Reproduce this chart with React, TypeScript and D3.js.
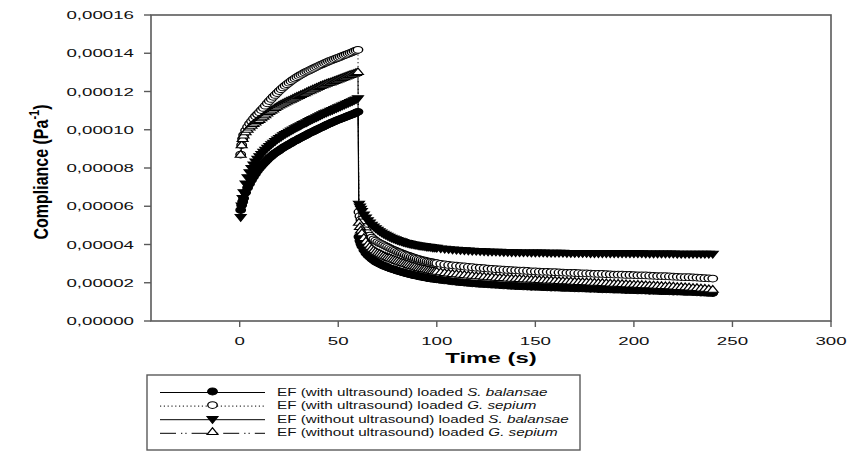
import React from 'react';
import * as d3 from 'd3';

// ---- data (compliance in units of 1e-5 Pa^-1) ----
const UNIT = 1e-5;
const creepTime = [0.5, 1, 1.5, 2, 3, 4, 5, 6, 7, 8, 9, 10, 11, 12, 13, 14, 15, 16, 17, 18, 19, 20,
  21, 22, 23, 24, 25, 26, 27, 28, 29, 30, 31, 32, 33, 34, 35, 36, 37, 38, 39, 40,
  41, 42, 43, 44, 45, 46, 47, 48, 49, 50, 51, 52, 53, 54, 55, 56, 57, 58, 59, 60];
const recoveryTime = [60.5, 61, 61.5, 62, 63, 64, 65, 66, 67, 68, 69, 70, 71, 72, 73, 74, 75, 76, 77, 78, 79, 80,
  81, 82, 83, 84, 85, 86, 87, 88, 89, 90, 91, 92, 93, 94, 95, 96, 97, 98, 99, 100,
  102, 104, 106, 108, 110, 112, 114, 116, 118, 120, 122, 124, 126, 128, 130, 132, 134, 136, 138, 140,
  142, 144, 146, 148, 150, 152, 154, 156, 158, 160, 162, 164, 166, 168, 170, 172, 174, 176, 178, 180,
  182, 184, 186, 188, 190, 192, 194, 196, 198, 200, 202, 204, 206, 208, 210, 212, 214, 216, 218, 220,
  222, 224, 226, 228, 230, 232, 234, 236, 238, 240];

const usBalansaeCreep = [5.80, 6.05, 6.25, 6.42, 6.72, 6.97, 7.18, 7.37, 7.54, 7.70, 7.85, 7.99, 8.11, 8.22, 8.33, 8.43, 8.53, 8.62, 8.71, 8.78, 8.85, 8.92,
  8.99, 9.06, 9.12, 9.18, 9.24, 9.30, 9.36, 9.42, 9.47, 9.53, 9.58, 9.64, 9.69, 9.74, 9.80, 9.85, 9.90, 9.95, 10.00, 10.05,
  10.10, 10.15, 10.20, 10.25, 10.30, 10.34, 10.39, 10.43, 10.48, 10.52, 10.56, 10.60, 10.64, 10.68, 10.72, 10.76, 10.80, 10.84, 10.89, 10.94];
const usBalansaeRecovery = [4.41, 4.20, 4.04, 3.91, 3.71, 3.56, 3.44, 3.34, 3.25, 3.17, 3.10, 3.04, 2.99, 2.94, 2.89, 2.85, 2.81, 2.77, 2.73, 2.70, 2.67, 2.63,
  2.60, 2.57, 2.54, 2.51, 2.48, 2.46, 2.43, 2.41, 2.38, 2.36, 2.34, 2.32, 2.30, 2.28, 2.26, 2.24, 2.22, 2.21, 2.19, 2.18,
  2.15, 2.12, 2.10, 2.07, 2.05, 2.03, 2.01, 1.99, 1.97, 1.96, 1.94, 1.93, 1.92, 1.90, 1.89, 1.88, 1.86, 1.85, 1.84, 1.83,
  1.82, 1.81, 1.80, 1.79, 1.79, 1.78, 1.77, 1.76, 1.75, 1.75, 1.74, 1.73, 1.73, 1.72, 1.71, 1.70, 1.70, 1.69, 1.68, 1.68,
  1.67, 1.66, 1.66, 1.65, 1.64, 1.64, 1.63, 1.62, 1.62, 1.61, 1.60, 1.60, 1.59, 1.58, 1.58, 1.57, 1.56, 1.56, 1.55, 1.54,
  1.54, 1.53, 1.52, 1.52, 1.51, 1.50, 1.49, 1.48, 1.47, 1.46];

const usSepiumCreep = [8.70, 9.20, 9.52, 9.72, 9.96, 10.15, 10.31, 10.45, 10.58, 10.70, 10.81, 10.92, 11.03, 11.14, 11.26, 11.38, 11.50, 11.61, 11.72, 11.82, 11.92, 12.02,
  12.12, 12.21, 12.30, 12.38, 12.46, 12.54, 12.61, 12.68, 12.75, 12.81, 12.87, 12.93, 12.99, 13.04, 13.09, 13.14, 13.19, 13.24, 13.29, 13.34,
  13.39, 13.43, 13.48, 13.52, 13.57, 13.61, 13.65, 13.69, 13.73, 13.77, 13.81, 13.85, 13.89, 13.93, 13.97, 14.01, 14.05, 14.10, 14.14, 14.18];
const usSepiumRecovery = [5.70, 5.48, 5.30, 5.15, 4.92, 4.74, 4.59, 4.47, 4.36, 4.27, 4.20, 4.13, 4.07, 4.02, 3.97, 3.92, 3.87, 3.82, 3.77, 3.72, 3.68, 3.63,
  3.59, 3.55, 3.51, 3.47, 3.43, 3.40, 3.36, 3.33, 3.29, 3.26, 3.23, 3.20, 3.17, 3.15, 3.12, 3.10, 3.08, 3.06, 3.04, 3.02,
  2.99, 2.96, 2.93, 2.91, 2.89, 2.87, 2.85, 2.83, 2.81, 2.79, 2.78, 2.76, 2.74, 2.73, 2.71, 2.70, 2.68, 2.67, 2.66, 2.65,
  2.64, 2.63, 2.62, 2.60, 2.59, 2.58, 2.57, 2.57, 2.56, 2.55, 2.54, 2.53, 2.52, 2.52, 2.51, 2.50, 2.49, 2.49, 2.48, 2.47,
  2.46, 2.46, 2.45, 2.44, 2.43, 2.43, 2.42, 2.41, 2.41, 2.40, 2.39, 2.39, 2.38, 2.37, 2.36, 2.35, 2.35, 2.34, 2.33, 2.32,
  2.31, 2.30, 2.29, 2.29, 2.28, 2.27, 2.25, 2.24, 2.23, 2.22];

const noUsBalansaeCreep = [5.45, 6.05, 6.45, 6.75, 7.20, 7.53, 7.79, 8.01, 8.20, 8.35, 8.50, 8.63, 8.75, 8.86, 8.97, 9.07, 9.16, 9.25, 9.34, 9.42, 9.51, 9.58,
  9.65, 9.72, 9.79, 9.85, 9.91, 9.97, 10.03, 10.09, 10.14, 10.20, 10.25, 10.31, 10.36, 10.41, 10.47, 10.52, 10.57, 10.62, 10.67, 10.72,
  10.77, 10.82, 10.87, 10.92, 10.96, 11.01, 11.05, 11.10, 11.14, 11.19, 11.23, 11.28, 11.32, 11.37, 11.41, 11.46, 11.50, 11.55, 11.60, 11.66];
const noUsBalansaeRecovery = [6.15, 6.00, 5.88, 5.77, 5.58, 5.42, 5.28, 5.16, 5.05, 4.95, 4.86, 4.78, 4.71, 4.64, 4.58, 4.52, 4.47, 4.42, 4.37, 4.33, 4.29, 4.25,
  4.21, 4.18, 4.14, 4.11, 4.09, 4.06, 4.04, 4.02, 4.00, 3.98, 3.96, 3.95, 3.93, 3.92, 3.90, 3.89, 3.88, 3.86, 3.85, 3.84,
  3.81, 3.79, 3.77, 3.75, 3.74, 3.72, 3.71, 3.70, 3.69, 3.68, 3.67, 3.66, 3.65, 3.64, 3.64, 3.63, 3.62, 3.62, 3.61, 3.61,
  3.60, 3.60, 3.60, 3.59, 3.59, 3.59, 3.59, 3.58, 3.58, 3.58, 3.58, 3.58, 3.57, 3.57, 3.57, 3.57, 3.57, 3.57, 3.56, 3.56,
  3.56, 3.56, 3.56, 3.56, 3.56, 3.55, 3.55, 3.55, 3.55, 3.55, 3.55, 3.55, 3.54, 3.54, 3.54, 3.54, 3.54, 3.54, 3.54, 3.54,
  3.53, 3.53, 3.53, 3.53, 3.53, 3.53, 3.53, 3.53, 3.53, 3.53];

const noUsSepiumCreep = [8.68, 9.18, 9.50, 9.68, 9.85, 9.98, 10.10, 10.20, 10.29, 10.37, 10.44, 10.50, 10.59, 10.67, 10.75, 10.83, 10.91, 10.98, 11.05, 11.12, 11.19, 11.25,
  11.31, 11.36, 11.41, 11.46, 11.51, 11.56, 11.61, 11.66, 11.71, 11.75, 11.80, 11.85, 11.90, 11.95, 12.00, 12.04, 12.09, 12.13, 12.18, 12.22,
  12.27, 12.31, 12.35, 12.39, 12.43, 12.46, 12.50, 12.54, 12.58, 12.62, 12.65, 12.69, 12.73, 12.77, 12.81, 12.85, 12.88, 12.92, 12.96, 13.00];
const noUsSepiumRecovery = [5.12, 4.90, 4.72, 4.57, 4.33, 4.14, 3.99, 3.87, 3.77, 3.68, 3.61, 3.55, 3.50, 3.45, 3.40, 3.36, 3.32, 3.28, 3.24, 3.20, 3.16, 3.13,
  3.09, 3.05, 3.02, 2.98, 2.95, 2.91, 2.88, 2.85, 2.82, 2.79, 2.76, 2.73, 2.71, 2.69, 2.66, 2.64, 2.62, 2.60, 2.58, 2.56,
  2.53, 2.50, 2.47, 2.45, 2.43, 2.41, 2.39, 2.37, 2.35, 2.33, 2.32, 2.30, 2.28, 2.27, 2.25, 2.24, 2.23, 2.21, 2.20, 2.19,
  2.18, 2.17, 2.16, 2.15, 2.14, 2.13, 2.12, 2.11, 2.10, 2.09, 2.08, 2.07, 2.06, 2.05, 2.04, 2.03, 2.02, 2.01, 2.00, 1.99,
  1.98, 1.97, 1.96, 1.95, 1.94, 1.93, 1.92, 1.91, 1.90, 1.89, 1.88, 1.87, 1.86, 1.85, 1.84, 1.83, 1.82, 1.81, 1.80, 1.79,
  1.77, 1.76, 1.75, 1.74, 1.72, 1.71, 1.69, 1.67, 1.65, 1.62];

const xTicks = [0, 50, 100, 150, 200, 250, 300];
const yTicks = [0, 0.00002, 0.00004, 0.00006, 0.00008, 0.0001, 0.00012, 0.00014, 0.00016];
const legendPrefix = [
  'EF (with ultrasound) loaded ',
  'EF (with ultrasound) loaded ',
  'EF (without ultrasound) loaded ',
  'EF (without ultrasound) loaded ',
];
const legendSpecies = ['S. balansae', 'G. sepium', 'S. balansae', 'G. sepium'];

type MarkerKind = 'circle' | 'triangleDown' | 'triangle';
interface Series { creep: number[]; recovery: number[]; marker: MarkerKind; fill: string; dash: string | null; }

const series: Series[] = [
  { creep: usBalansaeCreep, recovery: usBalansaeRecovery, marker: 'circle', fill: '#000', dash: null },
  { creep: usSepiumCreep, recovery: usSepiumRecovery, marker: 'circle', fill: '#fff', dash: '1.2,2.6' },
  { creep: noUsBalansaeCreep, recovery: noUsBalansaeRecovery, marker: 'triangleDown', fill: '#000', dash: null },
  { creep: noUsSepiumCreep, recovery: noUsSepiumRecovery, marker: 'triangle', fill: '#fff', dash: '16,5,1.3,3,1.3,5' },
];

const W = 848;
const H = 454;
const SX = 1.4; // horizontal stretch of symbols
const FONT = 'Arial, "Liberation Sans", Helvetica, sans-serif';

const circlePath = d3.symbol().type(d3.symbolCircle).size(36)() as string;
const trianglePath = d3.symbol().type(d3.symbolTriangle).size(26)() as string;

function Marker({ kind, x, y, fill }: { kind: MarkerKind; x: number; y: number; fill: string }) {
  const d = kind === 'circle' ? circlePath : trianglePath;
  const rot = kind === 'triangleDown' ? ' rotate(180)' : '';
  return (
    <path d={d} transform={`translate(${x},${y}) scale(${SX},1)${rot}`} fill={fill} stroke="#000" strokeWidth={1} />
  );
}

export default function App() {
  const x = d3.scaleLinear().domain([-45, 300]).range([151, 831]);
  const y = d3.scaleLinear().domain([0, 0.00016]).range([321, 15]);
  const line = d3.line<[number, number]>().x(d => x(d[0])).y(d => y(d[1]));
  const fmt = (v: number) => d3.format('.5f')(v).replace('.', ',');

  const frame = '#5a5a5a';
  const legendX0 = 160, legendX1 = 265, legendMarkX = 212.5, legendTextX = 277;
  const legendRowY = (i: number) => 391.5 + i * 13.6;

  return (
    <svg width={W} height={H} style={{ position: 'absolute', left: 0, top: 0, background: '#fff' }} fontFamily={FONT}>
      <rect x={0} y={0} width={W} height={H} fill="#fff" />
      {/* frame */}
      <rect x={x(-45)} y={y(0.00016)} width={x(300) - x(-45)} height={y(0) - y(0.00016)} fill="none" stroke={frame} strokeWidth={1.6} />
      {/* y ticks */}
      {yTicks.map(v => (
        <g key={'y' + v}>
          <line x1={x(-45) - 7} x2={x(-45)} y1={y(v)} y2={y(v)} stroke={frame} strokeWidth={1.4} />
          <text transform={`translate(${x(-45) - 17},${y(v) + 4}) scale(1.7,1)`} textAnchor="end" fontSize={11} fill="#111">{fmt(v)}</text>
        </g>
      ))}
      {/* x ticks */}
      {xTicks.map(v => (
        <g key={'x' + v}>
          <line x1={x(v)} x2={x(v)} y1={y(0)} y2={y(0) + 6} stroke={frame} strokeWidth={1.4} />
          <text transform={`translate(${x(v)},${y(0) + 24}) scale(1.7,1)`} textAnchor="middle" fontSize={11} fill="#111">{v}</text>
        </g>
      ))}
      {/* axis titles */}
      <text transform={`translate(${(x(-45) + x(300)) / 2},${y(0) + 42}) scale(1.6,1)`} textAnchor="middle" fontSize={15} fontWeight="bold">Time (s)</text>
      <text transform={`translate(48,172) scale(1.3,1) rotate(-90)`} textAnchor="middle" fontSize={16} fontWeight="bold">
        Compliance (Pa<tspan fontSize={11} dy={-7}>-1</tspan><tspan dy={7}>)</tspan>
      </text>

      {/* series */}
      {series.map((s, si) => {
        const pts: [number, number][] = creepTime.map((t, i) => [t, s.creep[i] * UNIT] as [number, number])
          .concat(recoveryTime.map((t, i) => [t, s.recovery[i] * UNIT] as [number, number]));
        return (
          <g key={'s' + si}>
            <path d={line(pts) as string} fill="none" stroke="#000" strokeWidth={1} strokeDasharray={s.dash ?? undefined} />
            {pts.map((p, i) => (
              <Marker key={i} kind={s.marker} x={x(p[0])} y={y(p[1])} fill={s.fill} />
            ))}
          </g>
        );
      })}

      {/* legend */}
      <rect x={147} y={375} width={433} height={75} fill="#fff" stroke={frame} strokeWidth={1.4} />
      {series.map((s, i) => (
        <g key={'l' + i}>
          <line x1={legendX0} x2={legendX1} y1={legendRowY(i) + 1} y2={legendRowY(i) + 1} stroke="#000" strokeWidth={1} strokeDasharray={s.dash ?? undefined} />
          <Marker kind={s.marker} x={legendMarkX} y={legendRowY(i)} fill={s.fill} />
          <text transform={`translate(${legendTextX},${legendRowY(i) + 4}) scale(1.45,1)`} fontSize={10.5} fill="#111">
            {legendPrefix[i]}<tspan fontStyle="italic">{legendSpecies[i]}</tspan>
          </text>
        </g>
      ))}
    </svg>
  );
}
